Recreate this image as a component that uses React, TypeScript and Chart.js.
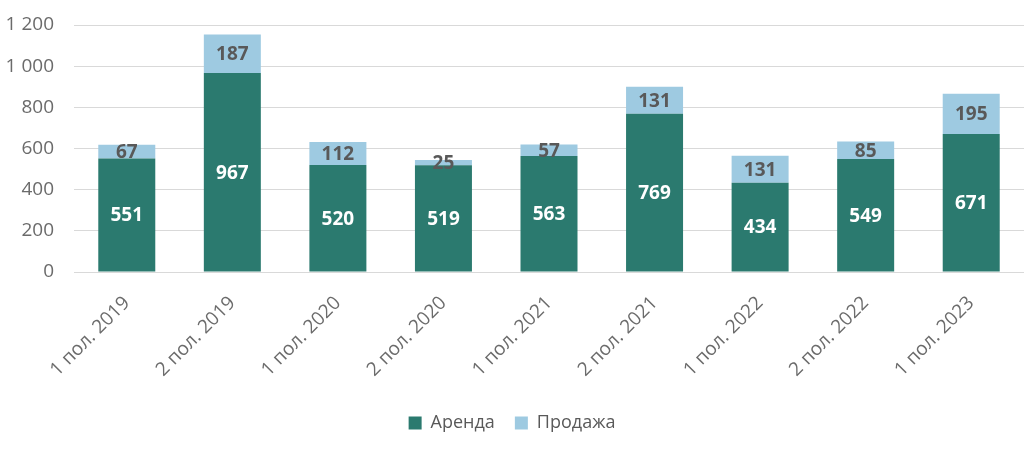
import React, { useEffect, useRef } from "react";
import { Chart, registerables } from "chart.js";

Chart.register(...registerables);

const categories = [
  "1 пол. 2019",
  "2 пол. 2019",
  "1 пол. 2020",
  "2 пол. 2020",
  "1 пол. 2021",
  "2 пол. 2021",
  "1 пол. 2022",
  "2 пол. 2022",
  "1 пол. 2023",
];
const rentValues = [551, 967, 520, 519, 563, 769, 434, 549, 671];
const saleValues = [67, 187, 112, 25, 57, 131, 131, 85, 195];
const seriesNames = ["Аренда", "Продажа"];
const yTicks = [0, 200, 400, 600, 800, 1000, 1200];

const FONT = "'Open Sans', sans-serif";
const labelColors = ["#ffffff", "#595959"];

const barLabelsPlugin = {
  id: "barLabels",
  afterDatasetsDraw(chart: any) {
    const ctx = chart.ctx;
    ctx.save();
    ctx.font = `bold 19px ${FONT}`;
    ctx.textAlign = "center";
    ctx.textBaseline = "middle";
    chart.data.datasets.forEach((ds: any, i: number) => {
      const meta = chart.getDatasetMeta(i);
      meta.data.forEach((bar: any, j: number) => {
        const { x, y, base } = bar.getProps(["x", "y", "base"], true);
        ctx.fillStyle = labelColors[i];
        ctx.fillText(String(ds.data[j]), x, (y + base) / 2 + 1);
      });
    });
    ctx.restore();
  },
};

export default function App() {
  const ref = useRef<HTMLCanvasElement>(null);
  useEffect(() => {
    const chart = new Chart(ref.current!, {
      type: "bar",
      data: {
        labels: categories,
        datasets: [
          {
            label: seriesNames[0],
            data: rentValues,
            backgroundColor: "#2b7a6f",
            categoryPercentage: 1,
            barPercentage: 0.54,
          },
          {
            label: seriesNames[1],
            data: saleValues,
            backgroundColor: "#9ecae1",
            categoryPercentage: 1,
            barPercentage: 0.54,
          },
        ],
      },
      options: {
        responsive: false,
        animation: false,
        layout: { padding: { top: 25, right: 0, left: 0, bottom: 14 } },
        plugins: {
          legend: {
            position: "bottom",
            labels: {
              font: { family: FONT, size: 18 },
              color: "#595959",
              boxWidth: 13,
              boxHeight: 13,
              padding: 20,
            },
          },
          tooltip: { enabled: false },
        },
        scales: {
          x: {
            stacked: true,
            grid: { display: false },
            border: { color: "#d9d9d9" },
            afterFit(scale: any) {
              scale.height = 122;
            },
            ticks: {
              font: { family: FONT, size: 19 },
              color: "#6b6b6b",
              maxRotation: 45,
              minRotation: 45,
              padding: 12,
            },
          },
          y: {
            stacked: true,
            min: 0,
            max: 1200,
            afterBuildTicks(scale: any) {
              scale.ticks = yTicks.map((v) => ({ value: v }));
            },
            afterFit(scale: any) {
              scale.width = 74;
              scale.paddingTop = 0;
              scale.paddingBottom = 0;
            },
            border: { display: false },
            grid: { color: "#d9d9d9", drawTicks: false },
            ticks: {
              font: { family: FONT, size: 19 },
              color: "#6b6b6b",
              padding: 20,
              callback: (v: any) =>
                String(v).replace(/\B(?=(\d{3})+(?!\d))/g, " "),
            },
          },
        },
      },
      plugins: [barLabelsPlugin],
    });
    return () => chart.destroy();
  }, []);
  return (
    <canvas
      ref={ref}
      width={1024}
      height={456}
      style={{ position: "fixed", left: 0, top: 0, width: 1024, height: 456 }}
    />
  );
}
